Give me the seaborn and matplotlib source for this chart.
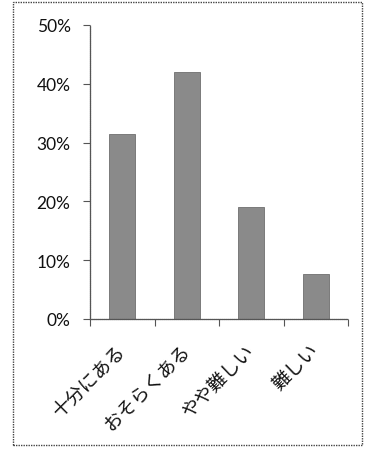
import matplotlib
matplotlib.use("Agg")
import matplotlib.pyplot as plt
import seaborn as sns
import pandas as pd
from matplotlib.patches import Rectangle
from matplotlib.ticker import FuncFormatter, FixedLocator

categories = ["十分にある", "おそらくある", "やや難しい", "難しい"]
shares = [31.5, 42.0, 19.0, 7.6]
y_ticks = [0, 10, 20, 30, 40, 50]

sns.set_theme(style="white")
plt.rcParams["font.family"] = ["Noto Sans CJK JP", "DejaVu Sans"]

df = pd.DataFrame({"category": categories, "share": shares})

fig = plt.figure(figsize=(3.65, 4.56), dpi=100)
ax = fig.add_axes([90 / 365, 1 - 320 / 456, (348 - 90) / 365, (320 - 26) / 456])

sns.barplot(data=df, x="category", y="share", color="#8a8a8a", width=0.4,
            saturation=1, ax=ax, edgecolor="#6e6e6e", linewidth=0.6)

ax.set_xlim(-0.5, 3.5)
ax.set_ylim(0, 50)
ax.set_yticks(y_ticks)
ax.yaxis.set_major_formatter(FuncFormatter(lambda v, p: f"{int(v)}%"))
ax.set_xlabel("")
ax.set_ylabel("")

for s in ["top", "right"]:
    ax.spines[s].set_visible(False)
for s in ["left", "bottom"]:
    ax.spines[s].set_color("#555555")
    ax.spines[s].set_linewidth(0.9)
    ax.spines[s].set_linestyle((0, (1, 0.6)))

ax.tick_params(axis="y", which="major", direction="out", length=5, width=0.8,
               color="#555555", labelsize=12.5, labelcolor="#111111", pad=9, left=True)
for lab in ax.get_yticklabels():
    lab.set_family(["Lato", "DejaVu Sans"])

ax.tick_params(axis="x", which="major", length=0, labelsize=13.5,
               labelcolor="#111111", pad=20)
ax.xaxis.set_minor_locator(FixedLocator([-0.5, 0.5, 1.5, 2.5, 3.5]))
ax.tick_params(axis="x", which="minor", direction="out", length=5, width=0.8,
               color="#555555", bottom=True)

for lab in ax.get_xticklabels():
    lab.set_rotation(45)
    lab.set_ha("right")
    lab.set_va("center")
    lab.set_rotation_mode("anchor")

fig.patches.append(Rectangle((13 / 365, 1 - 446 / 456), (362 - 13) / 365, (446 - 3) / 456,
                             transform=fig.transFigure, fill=False,
                             edgecolor="#444444", linewidth=1.0,
                             linestyle=(0, (1, 0.8))))

fig.savefig("out.png", dpi=100)
